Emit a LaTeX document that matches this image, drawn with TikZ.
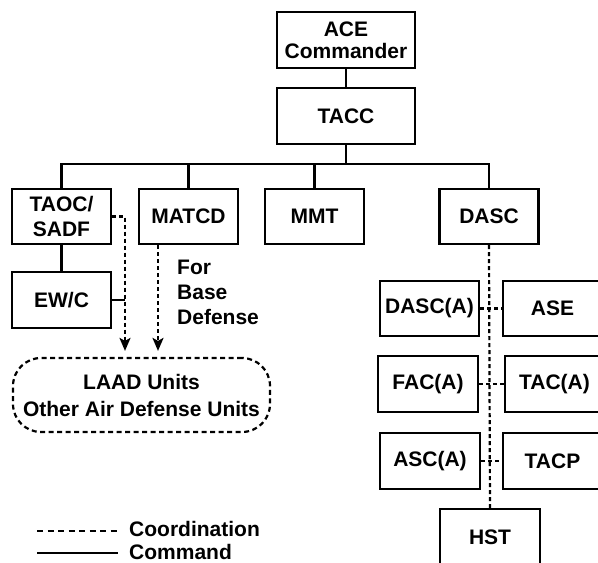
\documentclass[tikz,border=0pt]{standalone}
\usepackage{fontspec}
\setmainfont{Liberation Sans}
\usetikzlibrary{arrows.meta}
\begin{document}
\begin{tikzpicture}[x=1pt,y=-1pt,
  box/.style={draw,line width=2.2pt,minimum width=99pt,minimum height=55pt,inner sep=0pt,align=center,font=\bfseries\fontsize{21}{25}\selectfont},
  cmd/.style={line width=2.2pt},
  coord/.style={line width=2.2pt,dash pattern=on 4pt off 3pt},
  legdash/.style={line width=2.2pt,dash pattern=on 6pt off 4.5pt},
  arr/.style={-{Stealth[length=13pt,width=11pt,inset=3pt]}},
  lbl/.style={font=\bfseries\fontsize{21}{25}\selectfont,inner sep=0pt}]
\useasboundingbox (0,0) rectangle (598,563);
\clip (0,0) rectangle (598,563);
% top
\node[box,minimum width=138pt,minimum height=56pt,font=\bfseries\fontsize{21}{22}\selectfont] (ace) at (346,40) {ACE\\Commander};
\node[box,minimum width=138pt,minimum height=56pt] (tacc) at (346,116) {TACC};
% row
\node[box] (taoc) at (61.5,216.5) {TAOC/\\SADF};
\node[box] (matcd) at (188.5,216.5) {MATCD};
\node[box] (mmt) at (314.5,216.5) {MMT};
\node[box] (dasc) at (489,216.5) {DASC};
\node[box,minimum height=56pt] (ewc) at (61.5,300) {EW/C};
% right column
\node[box] (dasca) at (429.5,308.5) {DASC(A)};
\node[box] (ase) at (552.5,308.5) {ASE};
\node[box,minimum width=100pt,minimum height=56pt] (faca) at (428,384) {FAC(A)};
\node[box,minimum height=56pt] (taca) at (554.5,384) {TAC(A)};
\node[box,minimum width=100pt,minimum height=56pt] (asca) at (430,461) {ASC(A)};
\node[box,minimum height=56pt] (tacp) at (552.5,461) {TACP};
\node[box,minimum width=100pt,minimum height=56pt] (hst) at (490,537) {HST};
% LAAD
\node[draw,line width=2.2pt,dash pattern=on 5pt off 3.5pt,rounded corners=28pt,minimum width=257pt,minimum height=74pt,align=center,inner sep=0pt,font=\bfseries\fontsize{21}{27}\selectfont] (laad) at (141.5,395) {LAAD Units\\Other Air Defense Units};
\node[lbl,anchor=west,align=left] (base) at (177,292) {For\\Base\\Defense};
% command lines
\coordinate (busy) at (0,164);
\draw[cmd] (ace) -- (tacc);
\draw[cmd] (tacc.south) -- (tacc.south |- busy);
\draw[cmd] (taoc.north) -- (taoc.north |- busy) -| (dasc.north);
\draw[cmd] (matcd.north) -- (matcd.north |- busy);
\draw[cmd] (mmt.north) -- (mmt.north |- busy);
\draw[cmd] (taoc) -- (ewc);
\coordinate (j1) at (125,0);
\coordinate (j2) at (158,0);
\draw[cmd] (ewc.east) -- (ewc.east -| j1);
% coordination lines
\draw[coord,arr,shorten >=6pt] (taoc.east) -| (j1 |- laad.north);
\draw[coord,arr,shorten >=6pt] (matcd.south -| j2) -- (j2 |- laad.north);
\draw[coord] (dasc.south) -- (hst.north);
\draw[coord] (dasca.east) -- (ase.west);
\draw[coord] (faca.east) -- (taca.west);
\draw[coord] (asca.east) -- (tacp.west);
% legend
\coordinate (lc1) at (37,531);
\coordinate (lc2) at (118,531);
\coordinate (lm1) at (37,553);
\coordinate (lm2) at (118,553);
\draw[legdash] (lc1) -- (lc2);
\draw[cmd] (lm1) -- (lm2);
\node[lbl,anchor=base west] (lcoord) at (129,536.5) {Coordination};
\node[lbl,anchor=base west] (lcmd) at (129,559.5) {Command};
\end{tikzpicture}
\end{document}
